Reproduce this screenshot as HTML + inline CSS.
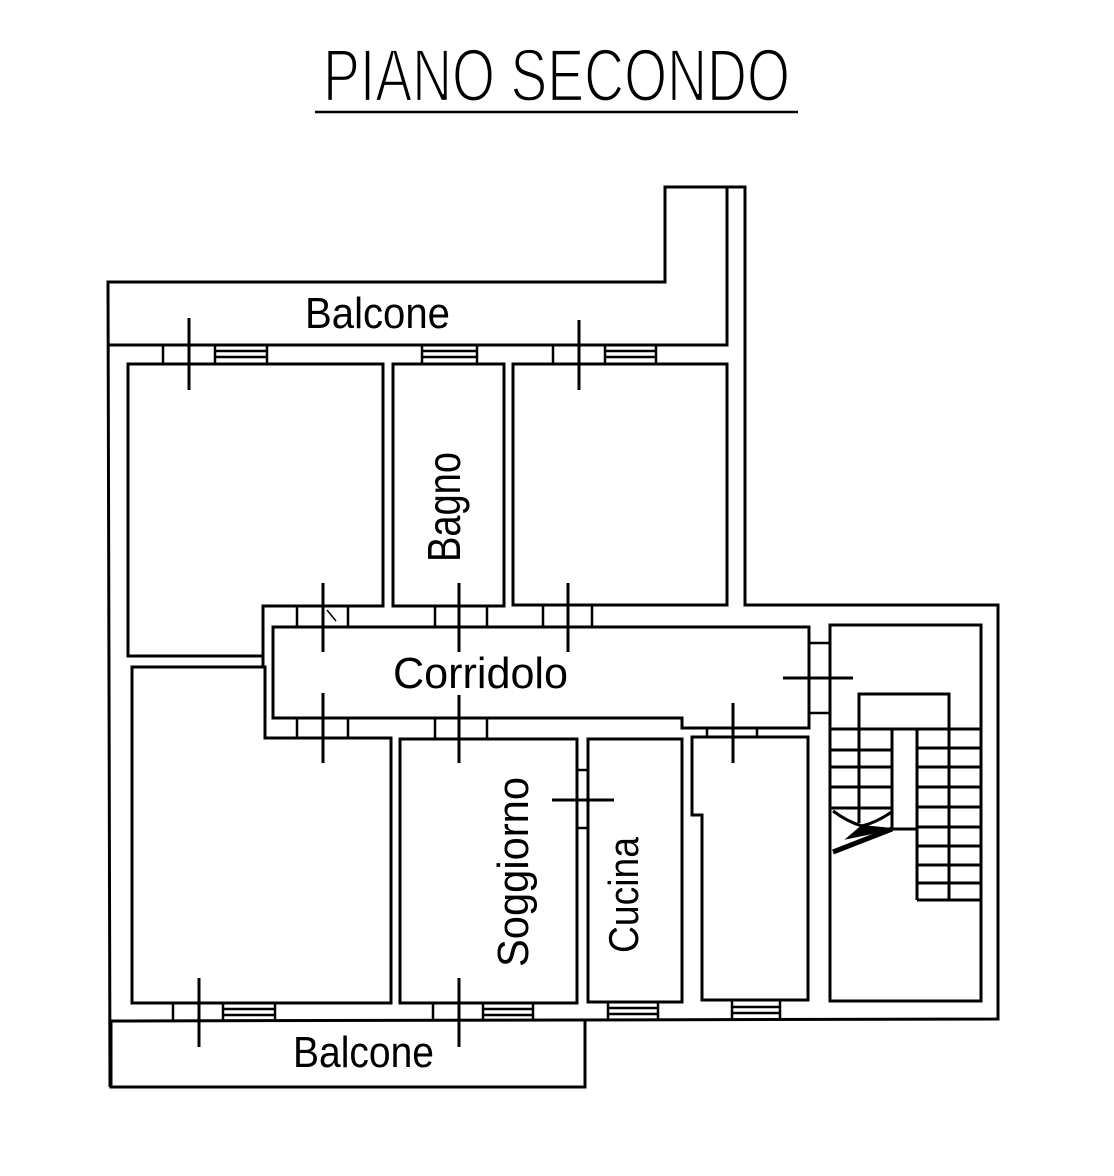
<!DOCTYPE html>
<html>
<head>
<meta charset="utf-8">
<style>
html,body{margin:0;padding:0;background:#fff;}
svg{display:block;}
text{font-family:"Liberation Sans",sans-serif;fill:#000;}
</style>
</head>
<body>
<svg width="1114" height="1176" viewBox="0 0 1114 1176" xmlns="http://www.w3.org/2000/svg">
<rect width="1114" height="1176" fill="#fff"/>

<!-- Title -->
<text x="323" y="101" font-size="74" textLength="467" lengthAdjust="spacingAndGlyphs" stroke="#fff" stroke-width="2.2">PIANO SECONDO</text>
<line x1="315" y1="112" x2="798" y2="112" stroke="#000" stroke-width="2.5"/>

<g fill="none" stroke="#000" stroke-width="3" stroke-linejoin="miter">
  <!-- exterior outline -->
  <polyline points="110,1087 108,282 665,282 665,187 745,187 745,605 998,605 998,1019 111,1021"/>
  <polyline points="727,187 727,345 108,345"/>
  <!-- bottom balcony -->
  <polyline points="111,1021 111,1087 585,1087 585,1021"/>

  <!-- rooms upper -->
  <polygon points="128,364 383,364 383,606 263,606 263,656 128,656"/>
  <polygon points="393,364 504,364 504,606 393,606"/>
  <polygon points="513,364 727,364 727,605 513,605"/>
  <!-- corridor -->
  <polygon points="273,627 809,627 809,728 682,728 682,718 273,718"/>
  <!-- rooms lower -->
  <polygon points="132,667 265,667 265,738 391,738 391,1003 132,1003"/>
  <polygon points="400,739 577,739 577,1003 400,1003"/>
  <polygon points="588,739 682,739 682,1002 588,1002"/>
  <polygon points="692,737 808,737 808,1000 702,1000 702,815 692,815"/>
  <!-- stair room -->
  <polygon points="830,625 981,625 981,1001 830,1001"/>
  <!-- corridor left wall closing -->
  <line x1="263" y1="656" x2="263" y2="667"/>
</g>

<!-- door jambs & windows -->
<g fill="none" stroke="#000" stroke-width="2.5">
  <line x1="297" y1="606" x2="297" y2="627"/><line x1="348" y1="606" x2="348" y2="627"/>
  <line x1="435" y1="606" x2="435" y2="627"/><line x1="487" y1="606" x2="487" y2="627"/>
  <line x1="543" y1="605" x2="543" y2="627"/><line x1="592" y1="605" x2="592" y2="627"/>
  <line x1="297" y1="718" x2="297" y2="738"/><line x1="348" y1="718" x2="348" y2="738"/>
  <line x1="435" y1="718" x2="435" y2="739"/><line x1="487" y1="718" x2="487" y2="739"/>
  <line x1="707" y1="728" x2="707" y2="737"/><line x1="757" y1="728" x2="757" y2="737"/>
  <line x1="809" y1="643" x2="830" y2="643"/><line x1="809" y1="713" x2="830" y2="713"/>
  <line x1="577" y1="770" x2="588" y2="770"/><line x1="577" y1="828" x2="588" y2="828"/>

  <line x1="163" y1="345" x2="163" y2="364"/><line x1="215" y1="345" x2="215" y2="364"/>
  <line x1="267" y1="345" x2="267" y2="364"/>
  <line x1="215" y1="351" x2="267" y2="351"/><line x1="215" y1="357" x2="267" y2="357"/>
  <line x1="422" y1="345" x2="422" y2="364"/><line x1="477" y1="345" x2="477" y2="364"/>
  <line x1="422" y1="351" x2="477" y2="351"/><line x1="422" y1="357" x2="477" y2="357"/>
  <line x1="553" y1="345" x2="553" y2="364"/><line x1="605" y1="345" x2="605" y2="364"/>
  <line x1="656" y1="345" x2="656" y2="364"/>
  <line x1="605" y1="351" x2="656" y2="351"/><line x1="605" y1="357" x2="656" y2="357"/>

  <line x1="173" y1="1003" x2="173" y2="1021"/><line x1="223" y1="1003" x2="223" y2="1021"/>
  <line x1="275" y1="1003" x2="275" y2="1021"/>
  <line x1="223" y1="1009" x2="275" y2="1009"/><line x1="223" y1="1015" x2="275" y2="1015"/>
  <line x1="433" y1="1003" x2="433" y2="1021"/><line x1="483" y1="1003" x2="483" y2="1021"/>
  <line x1="533" y1="1003" x2="533" y2="1021"/>
  <line x1="483" y1="1009" x2="533" y2="1009"/><line x1="483" y1="1015" x2="533" y2="1015"/>
  <line x1="608" y1="1002" x2="608" y2="1020"/><line x1="658" y1="1002" x2="658" y2="1020"/>
  <line x1="608" y1="1008" x2="658" y2="1008"/><line x1="608" y1="1014" x2="658" y2="1014"/>
  <line x1="732" y1="1000" x2="732" y2="1019"/><line x1="780" y1="1000" x2="780" y2="1019"/>
  <line x1="732" y1="1007" x2="780" y2="1007"/><line x1="732" y1="1013" x2="780" y2="1013"/>
</g>

<!-- door cross marks -->
<g stroke="#000" stroke-width="3">
  <line x1="189" y1="318" x2="189" y2="390"/>
  <line x1="579" y1="320" x2="579" y2="390"/>
  <line x1="323" y1="583" x2="323" y2="652"/>
  <line x1="459" y1="583" x2="459" y2="652"/>
  <line x1="568" y1="583" x2="568" y2="652"/>
  <line x1="323" y1="693" x2="323" y2="763"/>
  <line x1="459" y1="695" x2="459" y2="763"/>
  <line x1="733" y1="703" x2="733" y2="763"/>
  <line x1="783" y1="678" x2="853" y2="678"/>
  <line x1="552" y1="800" x2="614" y2="800"/>
  <line x1="199" y1="978" x2="199" y2="1047"/>
  <line x1="459" y1="978" x2="459" y2="1047"/>
  <line x1="327" y1="610" x2="336" y2="621" stroke-width="1.5"/>
</g>

<!-- stairs -->
<g fill="none" stroke="#000" stroke-width="3">
  <polyline points="859,729 859,694 949,694 949,729"/>
  <line x1="830" y1="729" x2="981" y2="729"/>
  <line x1="859" y1="729" x2="859" y2="823"/>
  <line x1="892" y1="729" x2="892" y2="829"/>
  <line x1="830" y1="750" x2="892" y2="750"/>
  <line x1="830" y1="767" x2="892" y2="767"/>
  <line x1="830" y1="787" x2="892" y2="787"/>
  <line x1="830" y1="808" x2="892" y2="808"/>
  <line x1="860" y1="829" x2="917" y2="829"/>
  <line x1="917" y1="729" x2="917" y2="900"/>
  <line x1="949" y1="729" x2="949" y2="900"/>
  <line x1="917" y1="748" x2="981" y2="748"/>
  <line x1="917" y1="767" x2="981" y2="767"/>
  <line x1="917" y1="787" x2="981" y2="787"/>
  <line x1="917" y1="807" x2="981" y2="807"/>
  <line x1="917" y1="827" x2="981" y2="827"/>
  <line x1="917" y1="846" x2="981" y2="846"/>
  <line x1="917" y1="865" x2="981" y2="865"/>
  <line x1="917" y1="883" x2="981" y2="883"/>
  <line x1="917" y1="900" x2="981" y2="900"/>
  <path d="M833,811 Q848,822 862,826 Q878,822 893,811"/>
  <line x1="833" y1="852" x2="892" y2="829" stroke-width="5"/>
  <path d="M862,826 L848,838 L892,829 Z" fill="#000" stroke-width="2"/>
</g>

<!-- labels -->
<text x="305" y="328" font-size="44" textLength="145" lengthAdjust="spacingAndGlyphs">Balcone</text>
<text x="293" y="1067" font-size="44" textLength="141" lengthAdjust="spacingAndGlyphs">Balcone</text>
<text x="393" y="688" font-size="44" textLength="175" lengthAdjust="spacingAndGlyphs">Corridolo</text>
<text transform="translate(460,562) rotate(-90)" font-size="46" textLength="110" lengthAdjust="spacingAndGlyphs">Bagno</text>
<text transform="translate(528,967) rotate(-90)" font-size="44" textLength="190" lengthAdjust="spacingAndGlyphs">Soggiorno</text>
<text transform="translate(638,953) rotate(-90)" font-size="42" textLength="116" lengthAdjust="spacingAndGlyphs">Cucina</text>
</svg>
</body>
</html>
